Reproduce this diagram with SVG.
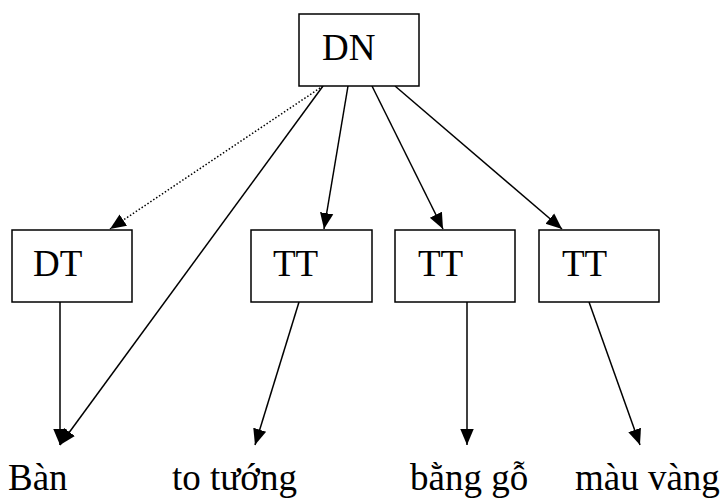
<svg xmlns="http://www.w3.org/2000/svg" width="722" height="498" viewBox="0 0 722 498">
<defs>
<marker id="ahb" viewBox="0 0 10 10" refX="10" refY="5" markerWidth="16" markerHeight="16" markerUnits="userSpaceOnUse" orient="auto">
<path d="M0,0.8 L10,5 L0,9.2 z" fill="#000"/>
</marker>
</defs>
<style>
.box{fill:#fff;stroke:#000;stroke-width:1.5}
.t{font-family:"Liberation Serif","Times New Roman",serif;font-size:37px;fill:#000}
.c{stroke:#000;stroke-width:1.5;fill:none;marker-end:url(#ahb)}
.d{stroke-dasharray:1.5 2}
</style>
<g id="connectors">
<line class="c d" x1="323" y1="86" x2="110" y2="229"/>
<line class="c" x1="323" y1="86" x2="60" y2="445"/>
<line class="c" x1="348" y1="86" x2="324" y2="229"/>
<line class="c" x1="372" y1="86" x2="443" y2="229"/>
<line class="c" x1="395" y1="86" x2="562" y2="229"/>
<line class="c" x1="60" y1="302" x2="60" y2="445"/>
<line class="c" x1="299" y1="302" x2="255" y2="445"/>
<line class="c" x1="467" y1="302" x2="467" y2="445"/>
<line class="c" x1="589" y1="302" x2="640" y2="445"/>
</g>
<g id="DN"><rect class="box" x="299" y="14" width="120" height="72"/><text class="t" x="322" y="60">DN</text></g>
<g id="DT"><rect class="box" x="12" y="230" width="120" height="72"/><text class="t" x="33" y="276">DT</text></g>
<g id="TT1"><rect class="box" x="251" y="230" width="121" height="72"/><text class="t" x="273" y="276">TT</text></g>
<g id="TT2"><rect class="box" x="395" y="230" width="120" height="72"/><text class="t" x="418" y="276">TT</text></g>
<g id="TT3"><rect class="box" x="539" y="230" width="120" height="72"/><text class="t" x="562" y="276">TT</text></g>
<g id="Ban"><text class="t" x="8" y="490">Bàn</text></g>
<g id="totuong"><text class="t" x="172" y="490">to tướng</text></g>
<g id="banggo"><text class="t" x="410" y="490">bằng gỗ</text></g>
<g id="mauvang"><text class="t" x="575" y="490">màu vàng</text></g>
</svg>
